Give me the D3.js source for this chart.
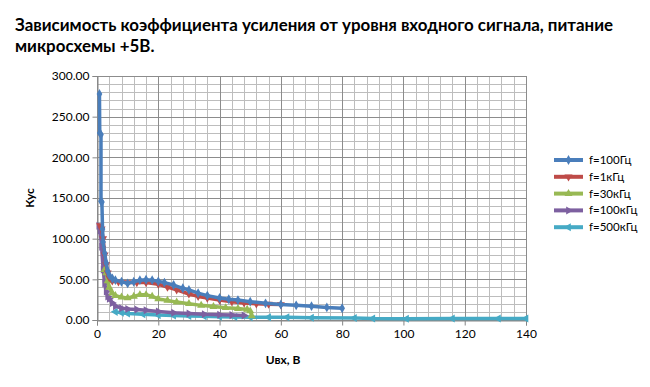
<!DOCTYPE html>
<html>
<head>
<meta charset="utf-8">
<script src="https://cdn.jsdelivr.net/npm/d3@7"></script>
<style>
  body { margin: 0; background: #fff; }
  svg { font-family: Lato, "Liberation Sans", sans-serif; }
</style>
</head>
<body>
<div id="chart-container"></div>
<script>
const width = 650;
const height = 387;

// Uвх, В / Кус for each frequency
const f100Hz = [
  [0.8, 278], [0.9, 230], [1.3, 228], [1.3, 146], [1.6, 145], [1.8, 112], [2, 96], [2.5, 82],
  [3, 70], [3.5, 60], [4, 55], [5, 51], [6, 49], [8, 47], [10, 45], [12, 47], [14, 49],
  [16, 49.5], [18, 49], [20, 47.5], [22, 46], [25, 43], [28, 39], [30, 37], [33, 33], [36, 30],
  [40, 27], [43, 25.5], [46, 24.5], [50, 22.5], [55, 20.5], [60, 19], [65, 18], [70, 17],
  [75, 15.5], [80, 14.5]
];
const f1kHz = [
  [1, 116], [1.5, 112], [2, 100], [2.5, 80], [3, 68], [3.5, 58], [4, 52], [5, 48], [7, 47],
  [10, 46], [13, 46], [16, 46], [20, 44], [23, 40.5], [26, 37], [30, 32], [33, 29], [36, 27],
  [40, 24.5], [44, 22.5], [48, 21], [52, 20], [56, 19.5], [60, 19]
];
const f30kHz = [
  [2.5, 62], [3, 58], [3.5, 48], [4, 40], [5, 33], [6, 30], [8, 28], [10, 27], [12, 29],
  [14, 31], [16, 31], [18, 29], [20, 26], [23, 24], [26, 22], [30, 20], [34, 18], [38, 16.5],
  [42, 15], [46, 14], [49, 13], [50, 11], [50.5, 5]
];
const f100kHz = [
  [0.6, 116], [1, 110], [1.5, 90], [2, 62], [2.5, 45], [3, 35], [3.5, 29], [4, 26], [5, 21],
  [6, 17], [8, 14.5], [10, 13.5], [13, 13], [16, 12], [20, 10.5], [25, 9], [30, 8], [35, 7],
  [40, 6.5], [44, 6], [48, 5.5]
];
const f500kHz = [
  [6, 10], [8, 9], [10, 8], [15, 7], [20, 6], [25, 5.5], [30, 5], [35, 4.5], [40, 4],
  [45, 3.8], [50, 3.5], [56, 3.5], [62, 3.3], [70, 2.8], [84, 2.5], [90, 1.8], [101, 1.5],
  [116, 1.8], [131, 1.8], [140, 1.8]
];

const seriesNames = ["f=100Гц", "f=1кГц", "f=30кГц", "f=100кГц", "f=500кГц"];
const seriesData = [f100Hz, f1kHz, f30kHz, f100kHz, f500kHz];
const colors = ["#4a7ebb", "#be4b48", "#98b954", "#7d60a0", "#46aac5"];
const xTicks = [0, 20, 40, 60, 80, 100, 120, 140];
const yTicks = [0, 50, 100, 150, 200, 250, 300];

const titleLines = ["Зависимость коэффициента усиления от уровня входного сигнала, питание", "микросхемы +5В."];

const margin = { top: 76, right: 124, bottom: 67, left: 97 };

const x = d3.scaleLinear([0, 140], [margin.left, width - margin.right]);
const y = d3.scaleLinear([0, 300], [height - margin.bottom, margin.top]);

const svg = d3.select("#chart-container")
    .append("svg")
    .attr("width", width)
    .attr("height", height)
    .attr("viewBox", [0, 0, width, height]);

// title
svg.append("g")
    .selectAll("text")
    .data(titleLines)
    .join("text")
    .attr("x", 15)
    .attr("y", (d, i) => 31 + i * 21)
    .attr("font-size", 16.9)
    .attr("font-weight", "bold")
    .attr("fill", "#000")
    .text(d => d);

// minor grid
svg.append("g")
    .attr("stroke", "#bdbdbd")
    .attr("stroke-width", 1)
    .call(g => g.selectAll(".vx")
        .data(d3.range(0, 141, 4))
        .join("line")
        .attr("x1", d => Math.round(x(d)) + 0.5)
        .attr("x2", d => Math.round(x(d)) + 0.5)
        .attr("y1", y(0))
        .attr("y2", y(300)))
    .call(g => g.selectAll(".hy")
        .data(d3.range(0, 301, 10))
        .join("line")
        .attr("y1", d => Math.round(y(d)) + 0.5)
        .attr("y2", d => Math.round(y(d)) + 0.5)
        .attr("x1", x(0))
        .attr("x2", x(140)));

// major grid
svg.append("g")
    .attr("stroke", "#8c8c8c")
    .attr("stroke-width", 1)
    .call(g => g.selectAll(".vx")
        .data(xTicks)
        .join("line")
        .attr("x1", d => Math.round(x(d)) + 0.5)
        .attr("x2", d => Math.round(x(d)) + 0.5)
        .attr("y1", y(0))
        .attr("y2", y(300)))
    .call(g => g.selectAll(".hy")
        .data(yTicks)
        .join("line")
        .attr("y1", d => Math.round(y(d)) + 0.5)
        .attr("y2", d => Math.round(y(d)) + 0.5)
        .attr("x1", x(0))
        .attr("x2", x(140)));

// axes
const xAxis = svg.append("g")
    .attr("transform", `translate(0,${Math.round(y(0)) + 0.5})`)
    .call(d3.axisBottom(x).tickValues(xTicks).tickSize(5).tickPadding(4));
const yAxis = svg.append("g")
    .attr("transform", `translate(${Math.round(x(0)) + 0.5},0)`)
    .call(d3.axisLeft(y).tickValues(yTicks).tickSize(5).tickPadding(3).tickFormat(d3.format(".2f")));
[xAxis, yAxis].forEach(a => {
    a.select(".domain").attr("stroke", "#868686");
    a.selectAll(".tick line").attr("stroke", "#868686");
    a.selectAll(".tick text")
        .attr("font-family", "Lato, 'Liberation Sans', sans-serif")
        .attr("font-size", 12)
        .attr("fill", "#000");
});

// axis titles
svg.append("text")
    .attr("x", 283)
    .attr("y", 364)
    .attr("text-anchor", "middle")
    .attr("font-size", 12)
    .attr("font-weight", "bold")
    .text("Uвх, В");
svg.append("text")
    .attr("transform", `translate(34,${(y(0) + y(300)) / 2}) rotate(-90)`)
    .attr("text-anchor", "middle")
    .attr("font-size", 12)
    .attr("font-weight", "bold")
    .text("Кус");

// markers
const symbols = [
    d3.symbol(d3.symbolDiamond, 28),
    d3.symbol(d3.symbolTriangle, 28),
    d3.symbol(d3.symbolTriangle, 28),
    d3.symbol(d3.symbolTriangle, 28),
    d3.symbol(d3.symbolTriangle, 28)
];
const rotations = [0, 180, 0, 90, -90];

const line = d3.line()
    .x(d => x(d[0]))
    .y(d => y(d[1]));

// draw from last series to first so the 100 Гц curve ends on top
const plot = svg.append("g");
d3.range(seriesData.length).reverse().forEach(i => {
    const data = seriesData[i];
    const g = plot.append("g");
    g.append("path")
        .datum(data)
        .attr("fill", "none")
        .attr("stroke", colors[i])
        .attr("stroke-width", 3.5)
        .attr("stroke-linejoin", "round")
        .attr("d", line);
    g.selectAll("path.m")
        .data(data)
        .join("path")
        .attr("class", "m")
        .attr("d", symbols[i])
        .attr("fill", colors[i])
        .attr("transform", d => `translate(${x(d[0])},${y(d[1])}) rotate(${rotations[i]})`);
});

// legend
const legend = svg.append("g")
    .attr("transform", "translate(554,160)");
const item = legend.selectAll("g")
    .data(seriesNames)
    .join("g")
    .attr("transform", (d, i) => `translate(0,${i * 16.8})`);
item.append("line")
    .attr("x1", 0)
    .attr("x2", 29)
    .attr("stroke", (d, i) => colors[i])
    .attr("stroke-width", 4);
item.append("path")
    .attr("d", (d, i) => symbols[i]())
    .attr("fill", (d, i) => colors[i])
    .attr("transform", (d, i) => `translate(14.5,0) rotate(${rotations[i]})`);
item.append("text")
    .attr("x", 35)
    .attr("dy", "0.35em")
    .attr("font-size", 11.5)
    .attr("fill", "#000")
    .text(d => d);
</script>
</body>
</html>
